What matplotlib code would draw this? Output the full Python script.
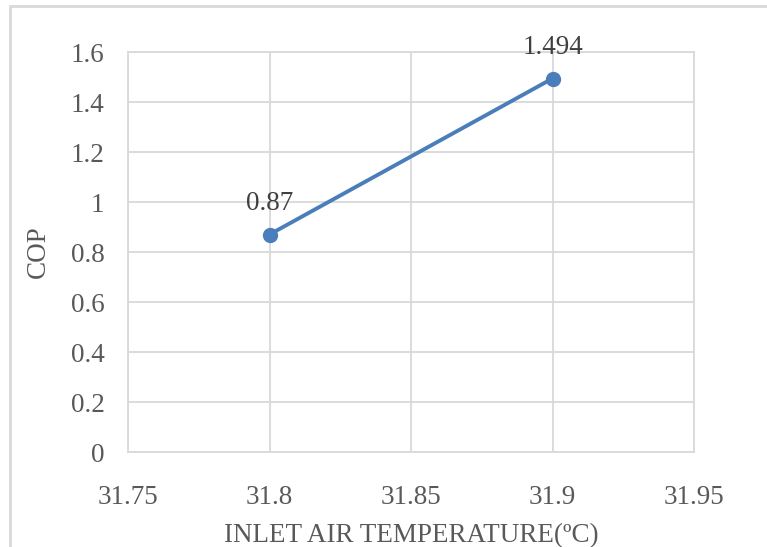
import matplotlib
matplotlib.use("Agg")
import matplotlib.pyplot as plt
from matplotlib.patches import Rectangle

temp = [31.8, 31.9]
cop = [0.87, 1.494]
labels = ["0.87", "1.494"]

plt.rcParams['font.family'] = ['Liberation Serif', 'DejaVu Serif']
fs = 19.5

fig = plt.figure(figsize=(7.67, 5.47), dpi=100)
ax = fig.add_axes([128/767, 95/547, 566/767, 400/547])

# outer chart frame (only left and top are visible in the crop)
fig.patches.append(Rectangle((10/767, -0.1), 1.2, (541/547) + 0.1, transform=fig.transFigure,
                             fill=False, edgecolor='#d9d9d9', linewidth=2))

ax.plot(temp, cop, color='#4a7ebb', linewidth=2.8, marker='o', markersize=10, zorder=3)
for x, y, t in zip(temp, cop, labels):
    ax.annotate(t, (x, y), xytext=(0, 13), textcoords='offset points', ha='center',
                va='bottom', fontsize=fs, color='#404040')

ax.set_xlim(31.75, 31.95)
ax.set_ylim(0, 1.6)
ax.set_xticks([31.75, 31.8, 31.85, 31.9, 31.95])
ax.set_xticklabels(["31.75", "31.8", "31.85", "31.9", "31.95"])
ax.set_yticks([0, 0.2, 0.4, 0.6, 0.8, 1.0, 1.2, 1.4, 1.6])
ax.set_yticklabels(["0", "0.2", "0.4", "0.6", "0.8", "1", "1.2", "1.4", "1.6"])
ax.grid(True, color='#d9d9d9', linewidth=1.3)
ax.set_axisbelow(True)
for s in ax.spines.values():
    s.set_color('#d9d9d9')
    s.set_linewidth(1.3)
ax.tick_params(length=0, labelsize=fs, labelcolor='#595959')
ax.tick_params(axis='x', pad=24)
ax.tick_params(axis='y', pad=17)

ax.set_xlabel("INLET AIR TEMPERATURE(ºC)", fontsize=fs, color='#595959', labelpad=9)
ax.set_ylabel("COP", fontsize=fs, color='#595959', labelpad=14)

fig.savefig("out.png", dpi=100)
